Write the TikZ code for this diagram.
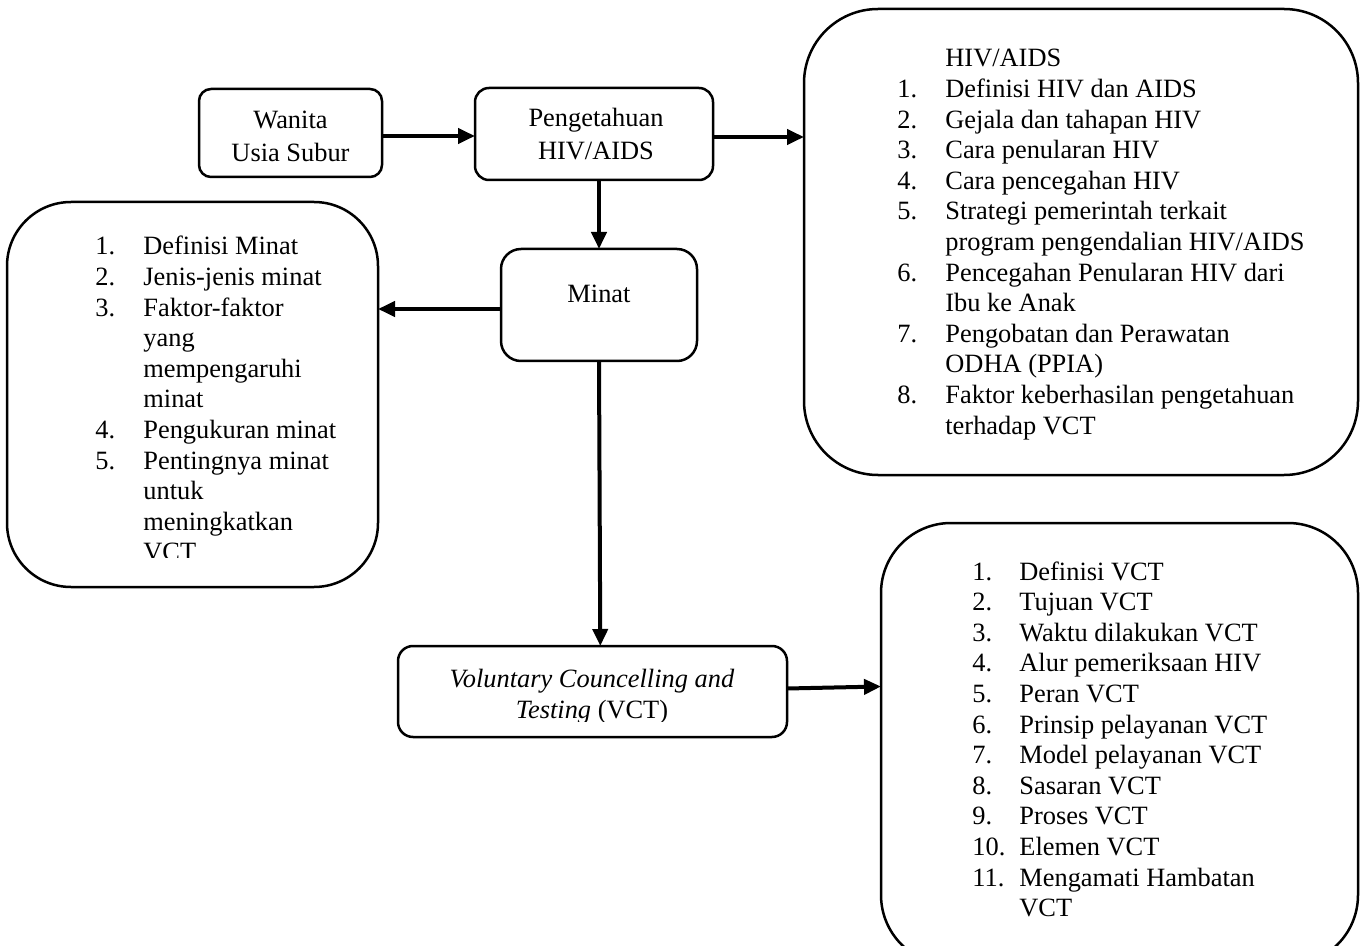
\documentclass[tikz,border=0pt]{standalone}
\usepackage{fontspec}
\setmainfont{Liberation Serif}
\usetikzlibrary{arrows.meta,calc}
\begin{document}
\begin{tikzpicture}[x=0.5pt,y=-0.5pt,
  box/.style={draw, line width=1.25pt, inner sep=0pt, outer sep=0pt},
  arr/.style={line width=2pt, -{Triangle[length=8.5pt,width=7.5pt]}},
  txt/.style={inner sep=0pt, anchor=base, font=\fontsize{13.2pt}{16.3pt}\selectfont},
  lst/.style={inner sep=0pt, anchor=base west, font=\fontsize{13.2pt}{15.3pt}\selectfont}]
\useasboundingbox (0,0) rectangle (1365,946);
% boxes
\node[box, rounded corners=6pt, minimum width=91.5pt, minimum height=44pt] (wus) at (290.5,133) {};
\node[box, rounded corners=7pt, minimum width=119pt, minimum height=46pt] (peng) at (594,134) {};
\node[box, rounded corners=37pt, minimum width=277pt, minimum height=233pt] (hiv) at (1081,242) {};
\node[box, rounded corners=10pt, minimum width=98pt, minimum height=56pt] (minat) at (599,305) {};
\node[box, rounded corners=32pt, minimum width=185.5pt, minimum height=192.5pt] (minbox) at (192.5,394.5) {};
\node[box, rounded corners=7.5pt, minimum width=194.5pt, minimum height=45.5pt] (vct) at (592.5,691.5) {};
\node[box, rounded corners=35pt, minimum width=238.5pt, minimum height=221pt] (vctbox) at (1119.5,744) {};
% texts
\node[txt] (twus) at (290.5,129) {\begin{tabular}[t]{@{}c@{}}Wanita\\Usia Subur\end{tabular}};
\node[txt] (tpeng) at (596,127) {\begin{tabular}[t]{@{}c@{}}Pengetahuan\\HIV/AIDS\end{tabular}};
\node[txt] (tminat) at (599,303) {Minat};
\begin{scope}
\clip (390,640) rectangle (795,721);
\node[txt, font=\fontsize{13.2pt}{15.5pt}\selectfont] (tvct) at (592,687) {\begin{tabular}[t]{@{}c@{}}\textit{Voluntary Councelling and}\\\textit{Testing} (VCT)\end{tabular}};
\end{scope}
\node[lst] (lhiv) at (897,67) {\begin{tabular}[t]{@{}p{24pt}@{}l@{}}
 & HIV/AIDS\\
1. & Definisi HIV dan AIDS\\
2. & Gejala dan tahapan HIV\\
3. & Cara penularan HIV\\
4. & Cara pencegahan HIV\\
5. & Strategi pemerintah terkait\\
 & program pengendalian HIV/AIDS\\
6. & Pencegahan Penularan HIV dari\\
 & Ibu ke Anak\\
7. & Pengobatan dan Perawatan\\
 & ODHA (PPIA)\\
8. & Faktor keberhasilan pengetahuan\\
 & terhadap VCT
\end{tabular}};
\begin{scope}
\clip (0,0) rectangle (1365,557);
\node[lst] (lmin) at (95,255) {\begin{tabular}[t]{@{}p{24pt}@{}l@{}}
1. & Definisi Minat\\
2. & Jenis-jenis minat\\
3. & Faktor-faktor\\
 & yang\\
 & mempengaruhi\\
 & minat\\
4. & Pengukuran minat\\
5. & Pentingnya minat\\
 & untuk\\
 & meningkatkan\\
 & VCT
\end{tabular}};
\end{scope}
\node[lst] (lvct) at (972,580) {\begin{tabular}[t]{@{}p{23.5pt}@{}l@{}}
1. & Definisi VCT\\
2. & Tujuan VCT\\
3. & Waktu dilakukan VCT\\
4. & Alur pemeriksaan HIV\\
5. & Peran VCT\\
6. & Prinsip pelayanan VCT\\
7. & Model pelayanan VCT\\
8. & Sasaran VCT\\
9. & Proses VCT\\
10. & Elemen VCT\\
11. & Mengamati Hambatan\\
 & VCT
\end{tabular}};
% connectors
\draw[arr] ([yshift=-1.5pt]wus.east) -- ([yshift=-1.5pt]wus.east -| peng.west);
\draw[arr] ([yshift=-1.5pt]peng.east) -- ([yshift=-1.5pt]peng.east -| hiv.west);
\draw[arr] (minat.north |- peng.south) -- (minat.north);
\draw[arr] ([yshift=-2pt]minat.west) -- ([yshift=-2pt]minat.west -| minbox.east);
\draw[arr] (minat.south) -- ($(vct.north west)!0.52!(vct.north east)$);
\draw[arr] ([yshift=1.5pt]vct.east) -- ([yshift=2.5pt]vct.east -| vctbox.west);
\end{tikzpicture}
\end{document}
